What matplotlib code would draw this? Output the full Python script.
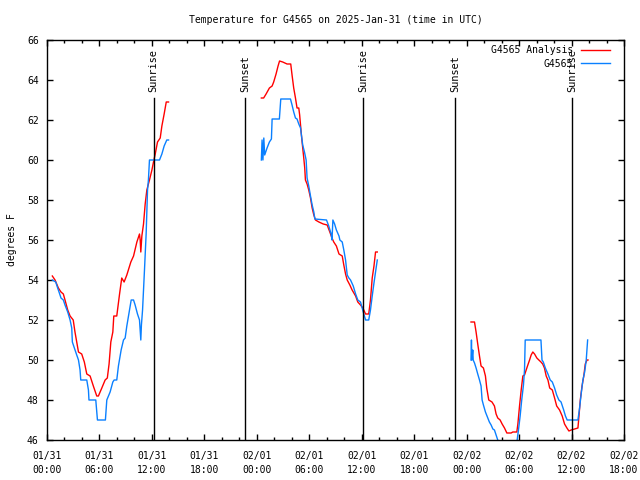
import numpy as np
import matplotlib
matplotlib.use('Agg')
import matplotlib.pyplot as plt

plt.rcParams['font.family'] = ['DejaVu Sans Mono']
plt.rcParams['font.size'] = 7

# hours since 2025-01-31 00:00 UTC
an_t1 = [0.61, 0.92, 1.3, 1.6, 1.87, 2.06, 2.37, 2.64, 3.0, 3.2, 3.4, 3.6, 3.97, 4.27, 4.55, 4.93,
         5.3, 5.69, 5.88, 6.27, 6.65, 6.9, 7.1, 7.3, 7.53, 7.64, 7.98, 8.3, 8.55, 8.82, 9.13, 9.59,
         9.9, 10.28, 10.58, 10.66, 10.73, 10.85, 11.04, 11.23, 11.42, 11.72, 12.0, 12.18, 12.38,
         12.64, 12.95, 13.14, 13.4, 13.64, 13.9]
an_v1 = [54.2, 54.0, 53.6, 53.4, 53.3, 53.0, 52.5, 52.2, 52.0, 51.4, 50.9, 50.4, 50.3, 49.9, 49.3, 49.2,
         48.7, 48.2, 48.2, 48.6, 49.0, 49.1, 49.8, 50.9, 51.4, 52.2, 52.2, 53.3, 54.1, 53.9, 54.25, 54.9,
         55.2, 55.9, 56.3, 56.0, 55.4, 56.2, 56.8, 57.8, 58.5, 59.0, 59.5, 59.9, 60.3,
         60.9, 61.1, 61.7, 62.3, 62.9, 62.9]

ob_t1 = [0.61, 1.0, 1.22, 1.49, 1.6, 1.87, 2.06, 2.37, 2.64, 2.83, 2.9, 3.13, 3.4, 3.6, 3.78, 3.86,
         4.55, 4.74, 4.8, 5.58, 5.77, 6.68, 6.84, 7.22, 7.53, 7.68, 7.98, 8.17, 8.48, 8.75, 8.94,
         9.13, 9.4, 9.63, 9.9, 10.08, 10.35, 10.58, 10.73, 10.8, 10.93, 11.04, 11.15, 11.34, 11.5,
         11.6, 11.72, 12.87, 13.14, 13.4, 13.7, 13.9]
ob_v1 = [54.0, 53.9, 53.6, 53.25, 53.1, 53.0, 52.75, 52.4, 52.0, 51.6, 50.9, 50.6, 50.25, 50.0, 49.5, 49.0,
         49.0, 48.5, 48.0, 48.0, 47.0, 47.0, 48.0, 48.4, 48.9, 49.0, 49.0, 49.7, 50.5, 51.0, 51.1,
         51.7, 52.4, 53.0, 53.0, 52.75, 52.3, 52.0, 51.0, 51.75, 52.5, 53.5, 54.5, 56.3, 58.5,
         59.0, 60.0, 60.0, 60.3, 60.7, 61.0, 61.0]

an_t2 = [24.52, 24.78, 25.06, 25.44, 25.75, 25.93, 26.2, 26.43, 26.6, 26.96, 27.46, 27.88, 28.03,
         28.22, 28.42, 28.6, 28.8, 28.9, 29.0, 29.1, 29.25, 29.37, 29.48, 29.56, 29.75, 29.94, 30.14,
         30.33, 30.52, 30.71, 31.1, 31.6, 32.05, 32.35, 32.6, 32.8, 33.1, 33.4, 33.77, 33.95, 34.15,
         34.34, 34.64, 34.9, 35.3, 35.55, 35.86, 36.13, 36.44, 36.8, 37.0, 37.2, 37.4, 37.58, 37.78]
an_v2 = [63.1, 63.1, 63.3, 63.6, 63.7, 63.9, 64.3, 64.7, 64.95, 64.9, 64.8, 64.8, 64.25,
         63.6, 63.1, 62.6, 62.6, 62.25, 61.75, 61.25, 60.6, 60.1, 59.6, 59.0, 58.8, 58.5, 58.1,
         57.6, 57.25, 57.0, 56.9, 56.8, 56.75, 56.4, 56.1, 55.9, 55.7, 55.3, 55.2, 54.75, 54.3,
         54.0, 53.75, 53.5, 53.2, 52.9, 52.75, 52.6, 52.3, 52.3, 53.0, 54.1, 54.7, 55.4, 55.4]

ob_t2 = [24.52, 24.6, 24.7, 24.8, 24.9, 25.17, 25.44, 25.67, 25.75, 26.58, 26.74, 27.85, 28.03,
         28.22, 28.42, 28.6, 28.8, 29.0, 29.1, 29.25, 29.45, 29.64, 29.75, 29.94, 30.14, 30.33,
         30.52, 30.64, 31.97, 32.23, 32.5, 32.6, 32.7, 32.9, 33.1, 33.4, 33.5, 33.77, 33.95, 34.15,
         34.34, 34.53, 34.72, 35.03, 35.3, 35.55, 35.86, 36.05, 36.24, 36.44, 36.8, 37.0, 37.2,
         37.4, 37.58, 37.78]
ob_v2 = [60.0, 61.0, 60.0, 61.1, 60.25, 60.6, 60.9, 61.05, 62.05, 62.05, 63.05, 63.05, 62.75,
         62.4, 62.1, 62.05, 61.8, 61.6, 61.25, 60.75, 60.4, 60.0, 59.1, 58.7, 58.2, 57.75,
         57.4, 57.05, 57.0, 56.7, 56.3, 56.0, 57.0, 56.8, 56.5, 56.2, 56.0, 55.9, 55.5, 55.0,
         54.25, 54.1, 54.0, 53.7, 53.3, 53.0, 52.9, 52.6, 52.3, 52.0, 52.0, 52.5, 53.2,
         53.85, 54.4, 55.0]

an_t3 = [48.5, 48.9, 49.08, 49.27, 49.47, 49.65, 49.92, 50.15, 50.3, 50.53, 50.9, 51.18, 51.37,
         51.56, 51.83, 52.06, 52.33, 52.6, 53.09, 53.28, 53.74, 53.86, 54.05, 54.24, 54.43, 54.62,
         54.81, 55.0, 55.2, 55.38, 55.57, 55.77, 56.03, 56.26, 56.5, 56.7, 56.9, 57.1, 57.3, 57.5,
         57.8, 58.06, 58.3, 58.63, 58.93, 59.2, 59.47, 59.7, 59.96, 60.35, 60.73, 60.85, 61.0, 61.2,
         61.4, 61.57, 61.77, 61.88]
an_v3 = [51.9, 51.9, 51.4, 50.8, 50.2, 49.7, 49.6, 49.2, 48.6, 48.0, 47.9, 47.7, 47.3,
         47.1, 47.0, 46.8, 46.6, 46.35, 46.35, 46.4, 46.4, 46.8, 47.7, 48.5, 49.2, 49.25,
         49.5, 49.75, 50.0, 50.25, 50.4, 50.3, 50.1, 50.0, 49.9, 49.8, 49.6, 49.2, 49.0, 48.6,
         48.5, 48.1, 47.7, 47.5, 47.2, 46.8, 46.6, 46.45, 46.5, 46.55, 46.6, 47.2, 48.0, 48.7,
         49.2, 49.8, 50.0, 50.0]

ob_t3 = [48.5, 48.55, 48.6, 48.7, 48.75, 48.9, 49.08, 49.27, 49.47, 49.65, 49.77, 49.92, 50.15,
         50.42, 50.6, 50.8, 51.0, 51.18, 51.37, 51.56, 52.0, 53.0, 53.78, 53.97, 54.12, 54.3, 54.5,
         54.62, 54.7, 56.5, 56.62, 56.77, 57.0, 57.3, 57.56, 57.8, 58.06, 58.3, 58.55, 58.8, 59.1,
         59.3, 59.5, 60.73, 60.92, 61.1, 61.3, 61.5, 61.68, 61.84]
ob_v3 = [50.0, 51.0, 50.0, 50.5, 50.0, 49.85, 49.6, 49.3, 49.0, 48.7, 48.0, 47.75, 47.4,
         47.1, 46.9, 46.75, 46.55, 46.5, 46.25, 46.0, 45.7, 45.5, 46.0, 46.65, 47.2, 48.0, 48.75,
         49.5, 51.0, 51.0, 50.0, 49.9, 49.6, 49.3, 49.0, 48.9, 48.6, 48.25, 48.0, 47.9, 47.5,
         47.2, 47.0, 47.0, 47.6, 48.3, 49.0, 49.4, 50.0, 51.0]

sun_t = [12.2, 22.7, 36.13, 46.67, 60.08]
sun_lbl = ['Sunrise', 'Sunset', 'Sunrise', 'Sunset', 'Sunrise']

xtick_pos = [0, 6, 12, 18, 24, 30, 36, 42, 48, 54, 60, 66]
xtick_lbl = ['01/31\n00:00', '01/31\n06:00', '01/31\n12:00', '01/31\n18:00',
             '02/01\n00:00', '02/01\n06:00', '02/01\n12:00', '02/01\n18:00',
             '02/02\n00:00', '02/02\n06:00', '02/02\n12:00', '02/02\n18:00']

red = '#ff0000'
blue = '#0a80ff'

fig = plt.figure(figsize=(6.4, 4.8), dpi=100)
ax = fig.add_axes([47/640, 40/480, 577/640, 400/480])

ax.plot(an_t1, an_v1, color=red, lw=1.0, label='G4565 Analysis')
ax.plot(ob_t1, ob_v1, color=blue, lw=1.0, label='G4565')
ax.plot(an_t2, an_v2, color=red, lw=1.0)
ax.plot(ob_t2, ob_v2, color=blue, lw=1.0)
ax.plot(an_t3, an_v3, color=red, lw=1.0)
ax.plot(ob_t3, ob_v3, color=blue, lw=1.0)

for t, s in zip(sun_t, sun_lbl):
    ax.plot([t, t], [46, 63.1], color='black', lw=1.0)
    ax.text(t, 63.4, s, rotation=90, ha='center', va='bottom', fontsize=7.4)

ax.set_xlim(0, 66)
ax.set_ylim(46, 66)
ax.set_xticks(xtick_pos)
ax.set_xticklabels(xtick_lbl, linespacing=1.45)
ax.set_xticks(np.arange(0, 67, 2), minor=True)
ax.set_yticks(np.arange(46, 67, 2))
ax.tick_params(which='major', direction='in', length=4, width=1, top=True, right=True, pad=8)
ax.tick_params(which='minor', direction='in', length=2, width=1, top=True, right=True)
ax.tick_params(axis='y', pad=6)
for sp in ax.spines.values():
    sp.set_linewidth(1.0)

ax.set_title('Temperature for G4565 on 2025-Jan-31 (time in UTC)', fontsize=7, pad=12)
fig.text(12/640, 0.5, 'degrees F', rotation=90, ha='center', va='center', fontsize=7)

ax.legend(loc='upper right', bbox_to_anchor=(0.9827, 0.9965), frameon=False, markerfirst=False,
          handlelength=3.0, borderaxespad=0, labelspacing=0.35, fontsize=7)

fig.savefig('out.png', dpi=100)
